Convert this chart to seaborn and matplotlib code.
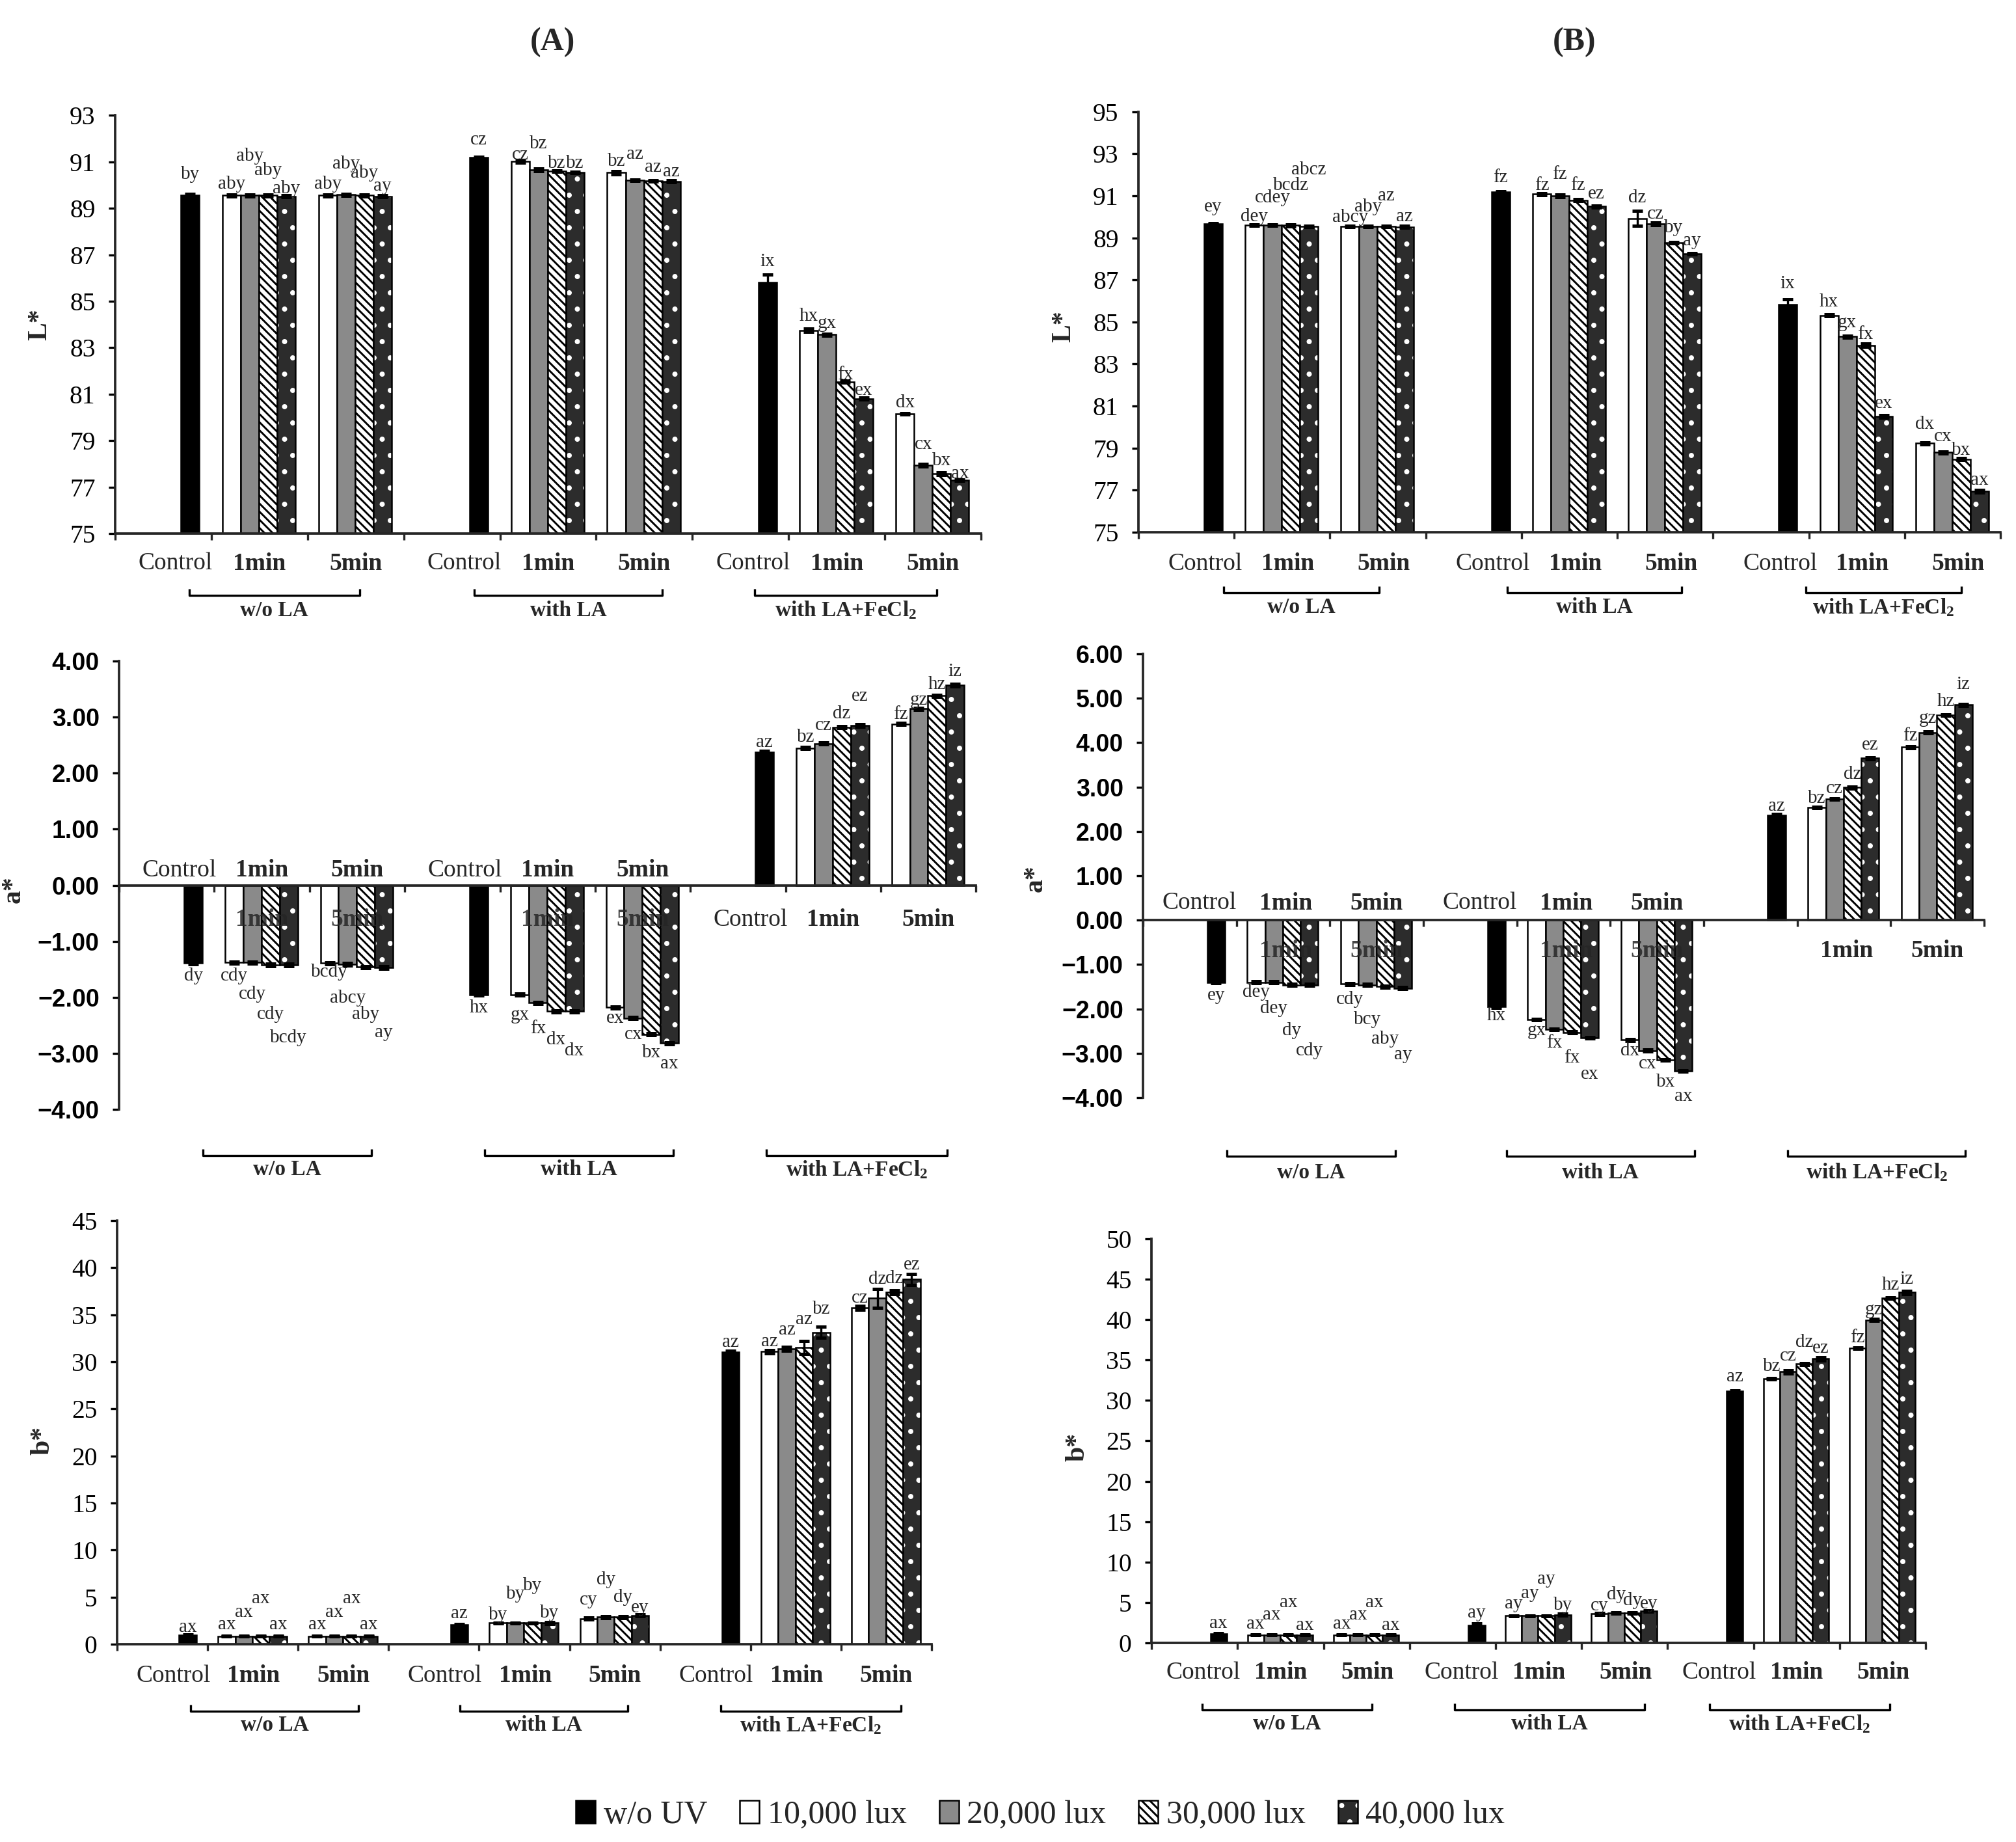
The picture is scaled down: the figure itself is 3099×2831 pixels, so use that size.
import numpy as np
import pandas as pd
import matplotlib
matplotlib.use("Agg")
import matplotlib.pyplot as plt
from matplotlib.patches import Patch
from matplotlib.colors import to_rgba
import seaborn as sns

# ---------------- data ----------------
series = ["w/o UV", "10,000 lux", "20,000 lux", "30,000 lux", "40,000 lux"]
groups = ["w/o LA", "with LA", "with LA+FeCl$_2$"]
times = ["Control", "1min", "5min"]

# each panel: 27 bars ordered per group as Control, 1min (10k..40k lux), 5min (10k..40k lux)
L_A = [89.57, 89.55, 89.55, 89.55, 89.52, 89.55, 89.58, 89.55, 89.52,
       91.18, 91.02, 90.66, 90.61, 90.55, 90.53, 90.20, 90.19, 90.16,
       85.82, 83.75, 83.56, 81.54, 80.81, 80.16, 77.94, 77.58, 77.29]
L_A_err = [0.05, 0.03, 0.03, 0.03, 0.05, 0.03, 0.05, 0.03, 0.03,
           0.03, 0.05, 0.05, 0.03, 0.03, 0.06, 0.03, 0.03, 0.05,
           0.32, 0.06, 0.05, 0.05, 0.05, 0.03, 0.05, 0.05, 0.03]
L_A_let = ["by", "aby", "aby", "aby", "aby", "aby", "aby", "aby", "ay",
           "cz", "cz", "bz", "bz", "bz", "bz", "az", "az", "az",
           "ix", "hx", "gx", "fx", "ex", "dx", "cx", "bx", "ax"]

L_B = [89.68, 89.60, 89.60, 89.60, 89.56, 89.54, 89.54, 89.54, 89.52,
       91.18, 91.09, 91.00, 90.79, 90.50, 89.93, 89.67, 88.78, 88.24,
       85.84, 85.31, 84.30, 83.89, 80.51, 79.23, 78.79, 78.47, 76.96]
L_B_err = [0.03, 0.03, 0.03, 0.05, 0.03, 0.03, 0.03, 0.03, 0.05,
           0.03, 0.05, 0.06, 0.05, 0.05, 0.36, 0.05, 0.03, 0.03,
           0.25, 0.05, 0.06, 0.08, 0.06, 0.05, 0.06, 0.05, 0.06]
L_B_let = ["ey", "dey", "cdey", "bcdz", "abcz", "abcy", "aby", "az", "az",
           "fz", "fz", "fz", "fz", "ez", "dz", "cz", "by", "ay",
           "ix", "hx", "gx", "fx", "ex", "dx", "cx", "bx", "ax"]

a_A = [-1.39, -1.38, -1.38, -1.42, -1.42, -1.39, -1.41, -1.46, -1.47,
       -1.95, -1.95, -2.10, -2.25, -2.25, -2.18, -2.37, -2.66, -2.82,
       2.38, 2.45, 2.53, 2.82, 2.85, 2.88, 3.15, 3.38, 3.57]
a_A_err = [0.02] * 27
a_A_let = ["dy", "cdy", "cdy", "cdy", "bcdy", "bcdy", "abcy", "aby", "ay",
           "hx", "gx", "fx", "dx", "dx", "ex", "cx", "bx", "ax",
           "az", "bz", "cz", "dz", "ez", "fz", "gz", "hz", "iz"]

a_B = [-1.40, -1.40, -1.40, -1.46, -1.46, -1.44, -1.46, -1.50, -1.53,
       -1.95, -2.24, -2.46, -2.53, -2.65, -2.70, -2.94, -3.15, -3.40,
       2.37, 2.54, 2.73, 2.99, 3.65, 3.90, 4.23, 4.62, 4.85]
a_B_err = [0.02] * 27
a_B_let = ["ey", "dey", "dey", "dy", "cdy", "cdy", "bcy", "aby", "ay",
           "hx", "gx", "fx", "fx", "ex", "dx", "cx", "bx", "ax",
           "az", "bz", "cz", "dz", "ez", "fz", "gz", "hz", "iz"]

b_A = [0.95, 0.85, 0.85, 0.85, 0.85, 0.85, 0.85, 0.85, 0.85,
       2.06, 2.25, 2.25, 2.25, 2.25, 2.70, 2.88, 2.88, 3.07,
       31.00, 31.07, 31.37, 31.52, 33.13, 35.75, 36.76, 37.36, 38.75]
b_A_err = [0.1, 0.05, 0.05, 0.05, 0.05, 0.05, 0.05, 0.05, 0.05,
           0.1, 0.05, 0.05, 0.05, 0.1, 0.1, 0.1, 0.1, 0.1,
           0.15, 0.15, 0.2, 0.7, 0.6, 0.2, 1.0, 0.2, 0.6]
b_A_let = ["ax", "ax", "ax", "ax", "ax", "ax", "ax", "ax", "ax",
           "az", "by", "by", "by", "by", "cy", "dy", "dy", "ey",
           "az", "az", "az", "az", "bz", "cz", "dz", "dz", "ez"]

b_B = [1.09, 1.00, 1.00, 1.00, 1.00, 1.00, 1.00, 1.00, 1.00,
       2.18, 3.36, 3.36, 3.36, 3.49, 3.58, 3.71, 3.71, 3.93,
       31.13, 32.66, 33.54, 34.50, 35.15, 36.46, 39.96, 42.66, 43.36]
b_B_err = [0.1, 0.05, 0.05, 0.05, 0.05, 0.05, 0.05, 0.05, 0.05,
           0.2, 0.05, 0.05, 0.05, 0.1, 0.1, 0.1, 0.05, 0.1,
           0.1, 0.1, 0.2, 0.15, 0.2, 0.1, 0.1, 0.1, 0.2]
b_B_let = ["ax", "ax", "ax", "ax", "ax", "ax", "ax", "ax", "ax",
           "ay", "ay", "ay", "ay", "by", "cy", "dy", "dy", "ey",
           "az", "bz", "cz", "dz", "ez", "fz", "gz", "hz", "iz"]

# ---------------- style / layout ----------------
# distance (px) of letter centre from bar end, per bar
L_A_lift = [32, 17, 60, 38, 12, 17, 47, 34, 16,
            27, 10, 40, 12, 14, 17, 40, 21, 15,
            32, 22, 17, 11, 13, 17, 32, 20, 10]
L_B_lift = [26, 13, 42, 61, 87, 14, 30, 47, 16,
            22, 13, 33, 23, 19, 32, 15, 23, 20,
            32, 21, 21, 17, 20, 29, 24, 14, 17]
a_A_lift = [20, 21, 49, 76, 112, 14, 52, 73, 100,
            20, 31, 40, 44, 61, 17, 25, 28, 32,
            15, 17, 28, 21, 45, 15, 13, 17, 21]
a_B_lift = [20, 15, 40, 70, 101, 24, 53, 81, 102,
            14, 17, 21, 39, 56, 17, 20, 34, 39,
            14, 14, 16, 20, 20, 17, 22, 21, 31]
b_A_lift = [12, 18, 37, 58, 18, 18, 37, 58, 18,
            17, 12, 44, 57, 15, 29, 57, 30, 12,
            15, 15, 29, 43, 36, 15, 29, 21, 22]
b_B_lift = [16, 17, 31, 50, 15, 17, 31, 50, 15,
            19, 18, 34, 56, 15, 12, 28, 19, 11,
            22, 19, 24, 33, 16, 16, 16, 20, 20]

palette = {"w/o UV": "#000000", "10,000 lux": "#ffffff", "20,000 lux": "#8a8a8a",
           "30,000 lux": "#ffffff", "40,000 lux": "#2c2c2c"}
hatches = {"30,000 lux": "\\\\\\\\\\\\\\\\", "40,000 lux": ".."}

FIG_W, FIG_H, DPI = 3099, 2831, 300
SLOT0, SLOTW = 0.21, 0.19
SERIF = ["Liberation Serif", "DejaVu Serif"]
SANS = ["Liberation Sans", "DejaVu Sans"]

sns.set_theme(context="paper", style="ticks")
plt.rcParams["font.family"] = SERIF
plt.rcParams["mathtext.default"] = "regular"
plt.rcParams["hatch.linewidth"] = 0.7
plt.rcParams["axes.linewidth"] = 0.9

fig = plt.figure(figsize=(FIG_W / DPI, FIG_H / DPI), dpi=DPI)
fig.patch.set_facecolor("white")


def layout():
    pos, ser = [], []
    for g in range(3):
        pos.append(3 * g + SLOT0 + 3 * SLOTW)
        ser.append(series[0])
        for t in (1, 2):
            for k in range(4):
                pos.append(3 * g + t + SLOT0 + k * SLOTW)
                ser.append(series[k + 1])
    return np.array(pos), ser


def style_patch(p, s):
    if s in hatches:
        p.set_hatch(hatches[s])
    if s == "40,000 lux":
        if hasattr(p, "set_hatchcolor"):
            p.set_hatchcolor("white")
        else:
            p._hatch_color = to_rgba("white")


def panel(cfg, vals, errs, letters, lifts):
    rect = cfg["rect"]
    ax = fig.add_axes(rect)
    pos, ser = layout()
    df = pd.DataFrame({"pos": pos, "val": vals, "series": ser})
    sns.barplot(data=df, x="pos", y="val", hue="series", hue_order=series,
                palette=palette, dodge=False, native_scale=True, width=1.0,
                errorbar=None, legend=False, saturation=1,
                edgecolor="black", linewidth=0.6, ax=ax)
    lookup = {round(p, 3): s for p, s in zip(pos, ser)}
    for p in ax.patches:
        s = lookup.get(round(p.get_x() + p.get_width() / 2, 3))
        style_patch(p, s)
    ax.errorbar(pos, vals, yerr=errs, fmt="none", ecolor="black",
                elinewidth=0.8, capsize=2.0, capthick=1.2, zorder=4)
    for x, v, lt, lf in zip(pos, vals, letters, lifts):
        sgn = 1 if v >= 0 else -1
        ax.annotate(lt, (x, v), xytext=(0, sgn * lf * 72 / DPI),
                    textcoords="offset points", ha="center", va="center",
                    fontsize=7, family=SERIF, zorder=6)

    ymin, ymax = cfg["ylim"]
    ax.set_xlim(0, 9)
    ax.set_ylim(ymin, ymax)
    ticks = np.arange(ymin, ymax + cfg["step"] / 2, cfg["step"])
    ax.set_yticks(ticks)
    if cfg["kind"] == "a":
        labs = [f"{t:.2f}".replace("-", "\u2212") for t in ticks]
        ax.set_yticklabels(labs, fontsize=9, fontweight="bold", family=SANS)
        ax.spines["bottom"].set_position(("data", 0))
    else:
        ax.set_yticklabels([f"{t:.0f}" for t in ticks], fontsize=9.5, family=SERIF)
    ax.set_xticks(range(10))
    ax.set_xticklabels([])
    for sp in ("top", "right"):
        ax.spines[sp].set_visible(False)
    for sp in ("left", "bottom"):
        ax.spines[sp].set_linewidth(0.9)
    ax.tick_params(axis="y", direction="out", length=2.3, width=0.8, pad=5, colors="black")
    ax.tick_params(axis="x", direction="out", length=2.5, width=0.8, labelbottom=False)
    ax.set_xlabel("")
    ax.set_ylabel(cfg["ylabel"], fontsize=10, fontweight="bold", family=SERIF)
    ax.yaxis.set_label_coords(*cfg["ylabel_xy"])

    px = (ymax - ymin) / (rect[3] * FIG_H)  # data units per pixel
    base = cfg["base"]

    def cat_text(x, y, t, alpha=1.0, z=3):
        ax.text(x, y, t, ha="center", va="center", fontsize=9,
                fontweight=("normal" if t == "Control" else "bold"),
                family=SERIF, clip_on=False, alpha=alpha, zorder=z)

    for g in range(3):
        mode = cfg["cat_mode"][g]
        offs = cfg["cat_offs"]
        if mode == "below":
            for t, o in zip(times, offs):
                cat_text(3 * g + o, base - cfg["cat_below"] * px, t)
        elif mode == "above":
            for t, o in zip(times, offs):
                cat_text(3 * g + o, base + cfg["cat_above"] * px, t)
            for t, o in zip(times[1:], offs[1:]):
                cat_text(3 * g + o, base - cfg["cat_below"] * px, t, alpha=0.85, z=5)
        elif mode == "below_noctrl":
            for t, o in zip(times[1:], offs[1:]):
                cat_text(3 * g + o, base - cfg["cat_below"] * px, t)

    for (x0, x1), gl in zip(cfg["brackets"], groups):
        yl = base - cfg["br_line"] * px
        yt = yl + 10 * px
        ax.plot([x0, x0, x1, x1], [yt, yl, yl, yt], color="black", lw=0.8,
                clip_on=False, solid_capstyle="butt")
        ax.text((x0 + x1) / 2, base - cfg["br_label"] * px, gl, ha="center",
                va="center", fontsize=8, fontweight="bold", family=SERIF, clip_on=False)
    ax.set_xlim(0, 9)
    ax.set_ylim(ymin, ymax)
    return ax


cfgs = {
    "LA": dict(rect=[0.0571, 0.7103, 0.4295, 0.2271], ylim=(75, 93), step=2, kind="L",
               base=75, ylabel="L*", ylabel_xy=(-0.073, 0.5),
               cat_mode=["below"] * 3, cat_offs=[0.63, 1.5, 2.5], cat_below=46, cat_above=0,
               brackets=[(0.77, 2.54), (3.73, 5.69), (6.65, 8.54)], br_line=95, br_label=118),
    "LB": dict(rect=[0.5647, 0.7111, 0.4276, 0.2282], ylim=(75, 95), step=2, kind="L",
               base=75, ylabel="L*", ylabel_xy=(-0.072, 0.49),
               cat_mode=["below"] * 3, cat_offs=[0.7, 1.56, 2.56], cat_below=49, cat_above=0,
               brackets=[(0.89, 2.51), (3.85, 5.67), (6.97, 8.59)], br_line=93, br_label=116),
    "aA": dict(rect=[0.0591, 0.3977, 0.425, 0.2434], ylim=(-4, 4), step=1, kind="a",
               base=0, ylabel="a*", ylabel_xy=(-0.109, 0.49),
               cat_mode=["above", "above", "below"], cat_offs=[0.63, 1.5, 2.5],
               cat_below=53, cat_above=23,
               brackets=[(0.88, 2.65), (3.84, 5.82), (6.80, 8.70)], br_line=415, br_label=437),
    "aB": dict(rect=[0.567, 0.4041, 0.4172, 0.2409], ylim=(-4, 6), step=1, kind="a",
               base=0, ylabel="a*", ylabel_xy=(-0.113, 0.494),
               cat_mode=["above", "above", "below_noctrl"], cat_offs=[0.6, 1.53, 2.5],
               cat_below=47, cat_above=26,
               brackets=[(0.90, 2.70), (3.89, 5.90), (6.9, 8.8)], br_line=363, br_label=388),
    "bA": dict(rect=[0.0581, 0.1074, 0.404, 0.23], ylim=(0, 45), step=5, kind="b",
               base=0, ylabel="b*", ylabel_xy=(-0.076, 0.48),
               cat_mode=["below"] * 3, cat_offs=[0.62, 1.51, 2.5], cat_below=49, cat_above=0,
               brackets=[(0.81, 2.67), (3.79, 5.64), (6.67, 8.66)], br_line=103, br_label=125),
    "bB": dict(rect=[0.5712, 0.1081, 0.384, 0.2194], ylim=(0, 50), step=5, kind="b",
               base=0, ylabel="b*", ylabel_xy=(-0.080, 0.485),
               cat_mode=["below"] * 3, cat_offs=[0.6, 1.5, 2.51], cat_below=46, cat_above=0,
               brackets=[(0.59, 2.56), (3.52, 5.73), (6.49, 8.58)], br_line=103, br_label=125),
}

panel(cfgs["LA"], L_A, L_A_err, L_A_let, L_A_lift)
panel(cfgs["LB"], L_B, L_B_err, L_B_let, L_B_lift)
panel(cfgs["aA"], a_A, a_A_err, a_A_let, a_A_lift)
panel(cfgs["aB"], a_B, a_B_err, a_B_let, a_B_lift)
panel(cfgs["bA"], b_A, b_A_err, b_A_let, b_A_lift)
panel(cfgs["bB"], b_B, b_B_err, b_B_let, b_B_lift)

fig.text(0.274, 0.977, "(A)", ha="center", va="center", fontsize=12,
         fontweight="bold", family=SERIF)
fig.text(0.781, 0.977, "(B)", ha="center", va="center", fontsize=12,
         fontweight="bold", family=SERIF)

handles = []
for s in series:
    h = Patch(facecolor=palette[s], edgecolor="black", linewidth=0.6)
    style_patch(h, s)
    handles.append(h)
fig.legend(handles, series, loc="center", bbox_to_anchor=(0.516, 0.0145), ncol=5,
           frameon=False, prop={"family": SERIF, "size": 12}, handlelength=0.6,
           handleheight=0.7, handletextpad=0.25, columnspacing=1.0, borderpad=0.1)

fig.savefig("out.png", dpi=DPI, facecolor="white")
